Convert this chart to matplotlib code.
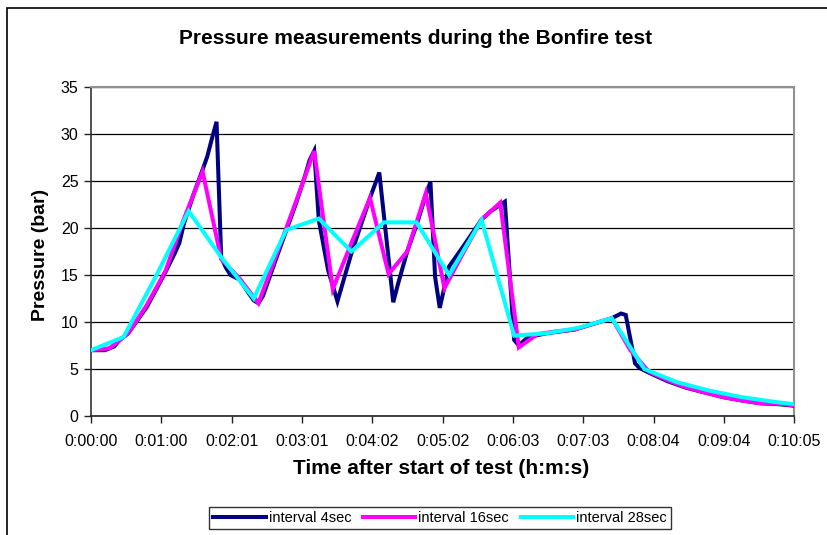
import matplotlib
matplotlib.use("Agg")
import matplotlib.pyplot as plt
from matplotlib.patches import Rectangle

plt.rcParams['font.family'] = ['Liberation Sans', 'DejaVu Sans']

# time in seconds after start of test
t4 = [0, 12, 20, 24, 32, 48, 64, 72, 76, 80, 88, 96, 100, 104, 108, 112, 116, 120,
      128, 136, 140, 144, 148, 160, 176, 184, 188, 192, 196, 204, 212, 224, 240, 248,
      260, 264, 272, 280, 288, 292, 296, 300, 308, 320, 336, 344, 356, 364, 368, 376,
      392, 416, 432, 448, 456, 460, 468, 472, 480, 496, 512, 528, 544, 560, 576, 592, 604]
p4 = [7.0, 7.0, 7.4, 8.0, 8.8, 11.6, 15.3, 17.3, 18.4, 20.5, 23.5, 26.2, 27.6, 29.5, 31.3,
      16.9, 15.8, 15.0, 14.5, 13.0, 12.3, 12.0, 12.8, 17.0, 22.5, 25.5, 27.2, 28.2, 20.8,
      15.5, 12.2, 17.3, 23.2, 25.9, 12.1, 14.0, 17.5, 20.3, 23.5, 24.9, 14.8, 11.5, 15.9,
      18.0, 20.9, 21.8, 22.8, 8.1, 7.5, 8.4, 8.8, 9.2, 9.8, 10.4, 10.9, 10.75, 5.6, 5.1,
      4.6, 3.7, 3.0, 2.5, 2.0, 1.65, 1.35, 1.25, 1.1]

t16 = [0, 16, 32, 48, 64, 80, 96, 112, 128, 144, 160, 176, 192, 208, 224, 240, 256, 272,
       288, 304, 320, 336, 352, 368, 384, 400, 416, 432, 448, 464, 480, 496, 512, 528,
       544, 560, 576, 592, 608]
p16 = [7.0, 7.2, 8.8, 11.8, 15.4, 21.0, 26.0, 16.7, 14.6, 12.0, 17.3, 22.7, 28.2, 13.5,
       18.4, 23.2, 15.1, 17.5, 23.7, 13.6, 17.3, 20.9, 22.7, 7.3, 8.7, 9.0, 9.2, 9.8, 10.4,
       7.0, 4.7, 3.8, 3.05, 2.5, 2.0, 1.65, 1.35, 1.3, 1.1]

t28 = [0, 28, 56, 84, 112, 140, 168, 196, 224, 252, 280, 308, 336, 364, 392, 420, 448,
       476, 504, 532, 560, 588, 616]
p28 = [7.0, 8.4, 14.9, 21.8, 16.9, 12.5, 19.8, 21.0, 17.5, 20.6, 20.6, 15.0, 20.85, 8.55,
       8.8, 9.4, 10.4, 5.0, 3.6, 2.7, 2.0, 1.5, 1.1]

xtick_labels = ["0:00:00", "0:01:00", "0:02:01", "0:03:01", "0:04:02", "0:05:02",
                "0:06:03", "0:07:03", "0:08:04", "0:09:04", "0:10:05"]
xtick_values = [i * 60.5 for i in range(len(xtick_labels))]
series_names = ["interval 4sec", "interval 16sec", "interval 28sec"]
colors = ["#000080", "#FF00FF", "#00FFFF"]

fig = plt.figure(figsize=(8.28, 5.35), dpi=100)
ax = fig.add_axes([91 / 828, 1 - 416 / 535, (794.3 - 91) / 828, (416 - 87) / 535])

for t, p, c, name in zip([t4, t16, t28], [p4, p16, p28], colors, series_names):
    ax.plot(t, p, color=c, lw=2.9, label=name, solid_joinstyle='miter', zorder=3)

ax.set_xlim(0, 605)
ax.set_ylim(0, 35)
ax.set_yticks(range(0, 36, 5))
ax.set_xticks(xtick_values)
ax.set_xticklabels(xtick_labels)
ax.yaxis.grid(True, color='black', lw=0.9)
ax.set_axisbelow(True)

for s in ['top', 'right']:
    ax.spines[s].set_color('#909090')
    ax.spines[s].set_linewidth(1.5)
ax.spines['left'].set_color('#333333')
ax.spines['bottom'].set_color('#222222')
ax.spines['left'].set_linewidth(1.2)
ax.spines['bottom'].set_linewidth(1.2)
ax.tick_params(axis='both', direction='out', length=5, width=1, labelsize=11.5,
               colors='#222222', labelcolor='black')
ax.tick_params(axis='x', pad=8)
ax.tick_params(axis='y', pad=4)

fig.text(416 / 828, 1 - 38 / 535, "Pressure measurements during the Bonfire test",
         ha='center', va='center', fontsize=15, fontweight='bold')
fig.text(41 / 828, 1 - 255 / 535, "Pressure (bar)", rotation=90, ha='center',
         va='center', fontsize=14, fontweight='bold')
fig.text(441 / 828, 1 - 469 / 535, "Time after start of test (h:m:s)", ha='center',
         va='center', fontsize=15, fontweight='bold')

leg = fig.legend(loc='center', bbox_to_anchor=(440 / 828, 1 - 518 / 535), ncol=3,
                 frameon=True, fancybox=False, edgecolor='black', fontsize=10.5,
                 handlelength=3.6, handletextpad=0.2, columnspacing=0.8,
                 borderpad=0.3, borderaxespad=0)
leg.get_frame().set_linewidth(1.0)

fig.patches.append(Rectangle((7 / 828, -0.1), 1.2, 1 - 8 / 535 + 0.1,
                             transform=fig.transFigure, fill=False,
                             edgecolor='black', lw=1.2))

fig.savefig("out.png", dpi=100)
